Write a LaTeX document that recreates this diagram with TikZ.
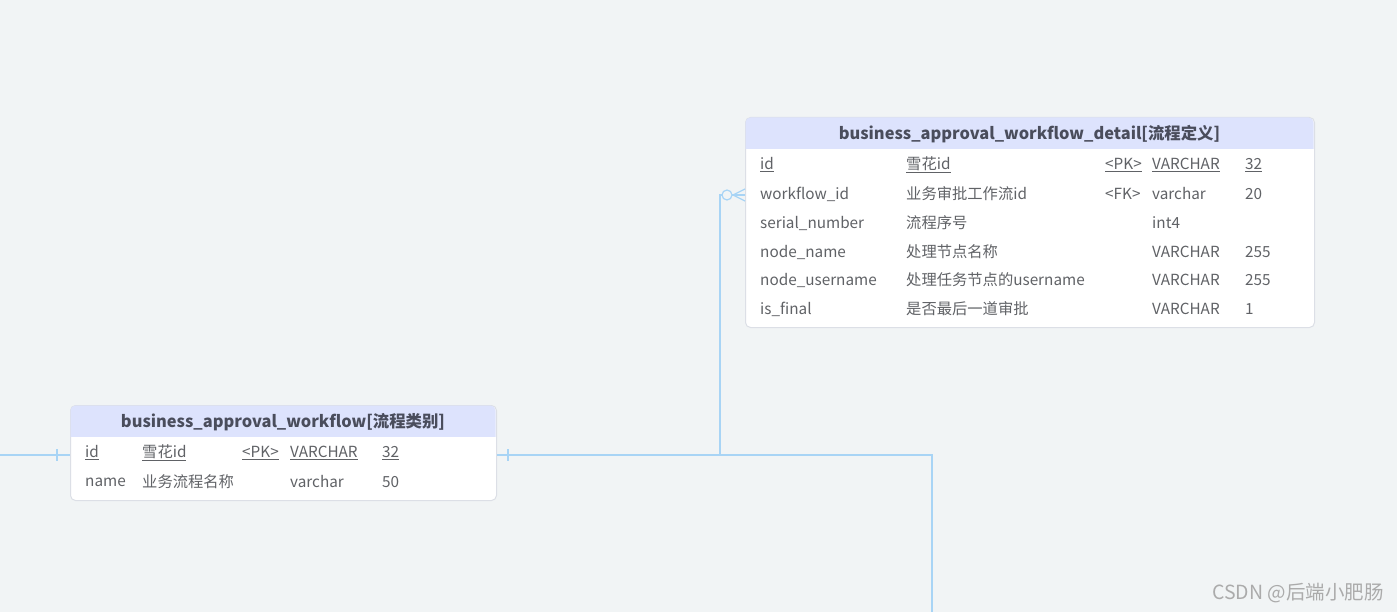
\documentclass[tikz,border=0pt]{standalone}
\usepackage{fontspec}
\setmainfont{Noto Sans CJK SC}
\definecolor{bg}{HTML}{F1F4F5}
\definecolor{hdr}{HTML}{DDE3FD}
\definecolor{bord}{HTML}{DCDFE6}
\definecolor{txt}{HTML}{606266}
\definecolor{htxt}{HTML}{4A4D5C}
\definecolor{conn}{HTML}{A8D4F5}
\definecolor{wm}{HTML}{ABABAB}
\begin{document}
\begin{tikzpicture}[x=1pt,y=-1pt,
  tbl/.style={draw=bord,fill=white,rounded corners=5pt,line width=1pt},
  htext/.style={font=\fontsize{16.4}{16}\selectfont\bfseries,text=htxt,inner sep=0pt},
  cell/.style={font=\fontsize{15.3}{15}\selectfont,text=txt,anchor=west,inner sep=0pt},
  link/.style={draw=conn,line width=1.2pt}]
\useasboundingbox[fill=bg] (0,0) rectangle (1397,612);

% ---- detail table
\node[tbl,minimum width=569pt,minimum height=210pt,anchor=north west,inner sep=0pt] (det) at (745,117) {};
\begin{scope}
\clip[rounded corners=5pt] (745.5,117.5) rectangle (1313.5,326.5);
\fill[hdr] (745,117) rectangle (1314,149);
\end{scope}
\node[htext] (dett) at (1029.5,134) {business\_approval\_workflow\_detail[流程定义]};
\node[cell] (d1a) at (760,165) {\underline{id}};
\node[cell] (d1b) at (906,165) {\underline{雪花id}};
\node[cell] (d1c) at (1105,165) {\underline{<PK>}};
\node[cell] (d1d) at (1152,165) {\underline{VARCHAR}};
\node[cell] (d1e) at (1245,165) {\underline{32}};
\node[cell] (d2a) at (760,194) {workflow\_id};
\node[cell] (d2b) at (906,194) {业务审批工作流id};
\node[cell] (d2c) at (1105,194) {<FK>};
\node[cell] (d2d) at (1152,194) {varchar};
\node[cell] (d2e) at (1245,194) {20};
\node[cell] (d3a) at (760,223) {serial\_number};
\node[cell] (d3b) at (906,223) {流程序号};
\node[cell] (d3d) at (1152,223) {int4};
\node[cell] (d4a) at (760,252) {node\_name};
\node[cell] (d4b) at (906,252) {处理节点名称};
\node[cell] (d4d) at (1152,252) {VARCHAR};
\node[cell] (d4e) at (1245,252) {255};
\node[cell] (d5a) at (760,280) {node\_username};
\node[cell] (d5b) at (906,280) {处理任务节点的username};
\node[cell] (d5d) at (1152,280) {VARCHAR};
\node[cell] (d5e) at (1245,280) {255};
\node[cell] (d6a) at (760,309) {is\_final};
\node[cell] (d6b) at (906,309) {是否最后一道审批};
\node[cell] (d6d) at (1152,309) {VARCHAR};
\node[cell] (d6e) at (1245,309) {1};

% ---- workflow table
\node[tbl,minimum width=426pt,minimum height=95pt,anchor=north west,inner sep=0pt] (wf) at (70,405) {};
\begin{scope}
\clip[rounded corners=5pt] (70.5,405.5) rectangle (495.5,499.5);
\fill[hdr] (70,405) rectangle (496,437);
\end{scope}
\node[htext] (wft) at (283,422) {business\_approval\_workflow[流程类别]};
\node[cell] (w1a) at (85,453) {\underline{id}};
\node[cell] (w1b) at (142,453) {\underline{雪花id}};
\node[cell] (w1c) at (242,453) {\underline{<PK>}};
\node[cell] (w1d) at (290,453) {\underline{VARCHAR}};
\node[cell] (w1e) at (382,453) {\underline{32}};
\node[cell] (w2a) at (85,482) {name};
\node[cell] (w2b) at (142,482) {业务流程名称};
\node[cell] (w2d) at (290,482) {varchar};
\node[cell] (w2e) at (382,482) {50};

% ---- connectors
\coordinate (lend) at (0,455);
\coordinate (bend) at (932,612);
\draw[link] (lend) -- (wf.west |- 0,455);
\draw[link] (57,449) -- (57,461);
\draw[link] (wf.east |- 0,455) -- (932,455) -- (bend);
\draw[link] (508,449) -- (508,461);
\draw[link] (720,455) -- (720,195) -- (722,195);
\draw[link] (727,195) circle (5pt);
\draw[link] (732,195) -- (det.west |- 0,195);
\draw[link] (733,195) -- (det.west |- 0,189);
\draw[link] (733,195) -- (det.west |- 0,201);

% ---- watermark
\node[font=\fontsize{19.5}{19.5}\selectfont,text=wm,anchor=east,inner sep=0pt] (wmk) at (1384,593) {CSDN @后端小肥肠};
\end{tikzpicture}
\end{document}
